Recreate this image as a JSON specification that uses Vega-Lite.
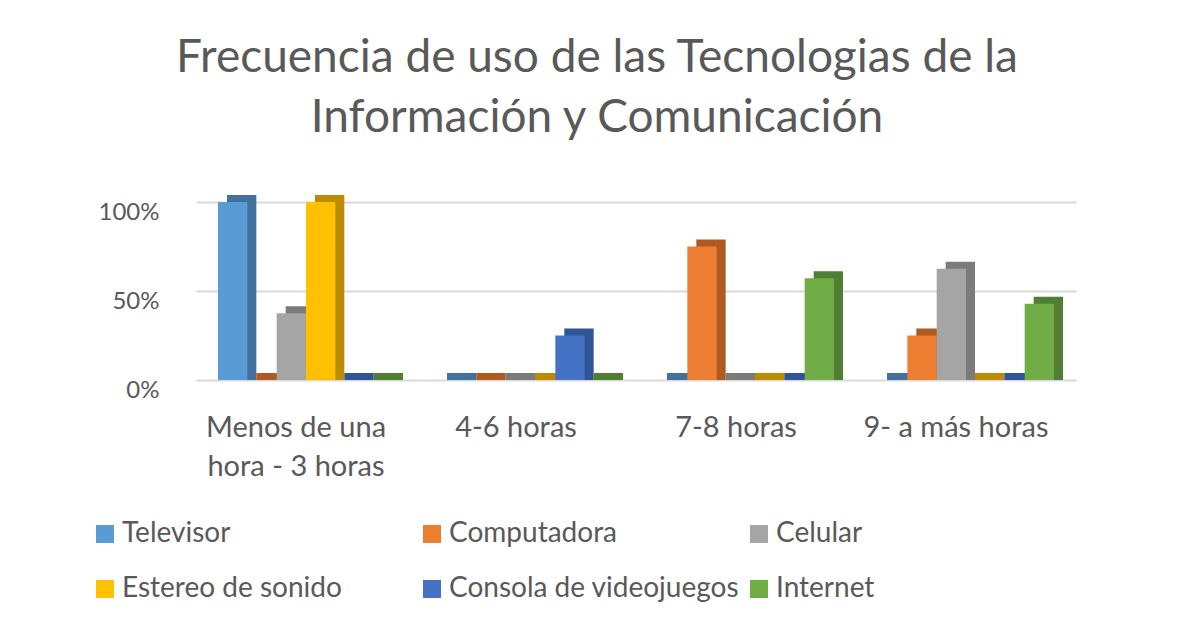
{
  "$schema": "https://vega.github.io/schema/vega-lite/v6.json",
  "width": 880,
  "height": 178,
  "autosize": {"type": "none"},
  "padding": {"left": 196, "top": 202, "right": 101, "bottom": 243},
  "background": "white",
  "title": {
    "text": ["Frecuencia de uso de las Tecnologias de la", "Información y Comunicación"],
    "font": "Lato",
    "fontSize": 46,
    "fontWeight": "normal",
    "color": "#595959",
    "lineHeight": 60,
    "anchor": "middle",
    "frame": "group",
    "dx": -39,
    "offset": 53
  },
  "data": {
    "values": [
      {"cat": "Menos de una hora - 3 horas", "serie": "Televisor", "valor": 1.0},
      {"cat": "Menos de una hora - 3 horas", "serie": "Computadora", "valor": 0.0},
      {"cat": "Menos de una hora - 3 horas", "serie": "Celular", "valor": 0.375},
      {"cat": "Menos de una hora - 3 horas", "serie": "Estereo de sonido", "valor": 1.0},
      {"cat": "Menos de una hora - 3 horas", "serie": "Consola de videojuegos", "valor": 0.0},
      {"cat": "Menos de una hora - 3 horas", "serie": "Internet", "valor": 0.0},
      {"cat": "4-6 horas", "serie": "Televisor", "valor": 0.0},
      {"cat": "4-6 horas", "serie": "Computadora", "valor": 0.0},
      {"cat": "4-6 horas", "serie": "Celular", "valor": 0.0},
      {"cat": "4-6 horas", "serie": "Estereo de sonido", "valor": 0.0},
      {"cat": "4-6 horas", "serie": "Consola de videojuegos", "valor": 0.25},
      {"cat": "4-6 horas", "serie": "Internet", "valor": 0.0},
      {"cat": "7-8 horas", "serie": "Televisor", "valor": 0.0},
      {"cat": "7-8 horas", "serie": "Computadora", "valor": 0.75},
      {"cat": "7-8 horas", "serie": "Celular", "valor": 0.0},
      {"cat": "7-8 horas", "serie": "Estereo de sonido", "valor": 0.0},
      {"cat": "7-8 horas", "serie": "Consola de videojuegos", "valor": 0.0},
      {"cat": "7-8 horas", "serie": "Internet", "valor": 0.571},
      {"cat": "9- a más horas", "serie": "Televisor", "valor": 0.0},
      {"cat": "9- a más horas", "serie": "Computadora", "valor": 0.25},
      {"cat": "9- a más horas", "serie": "Celular", "valor": 0.625},
      {"cat": "9- a más horas", "serie": "Estereo de sonido", "valor": 0.0},
      {"cat": "9- a más horas", "serie": "Consola de videojuegos", "valor": 0.0},
      {"cat": "9- a más horas", "serie": "Internet", "valor": 0.429}
    ]
  },
  "encoding": {
    "x": {
      "field": "cat",
      "type": "nominal",
      "sort": ["Menos de una hora - 3 horas", "4-6 horas", "7-8 horas", "9- a más horas"],
      "scale": {"paddingInner": 0.2, "paddingOuter": 0.1},
      "axis": {
        "title": null,
        "domain": false,
        "ticks": false,
        "labelAngle": 0,
        "labelFont": "Lato",
        "labelFontSize": 29,
        "labelColor": "#595959",
        "labelPadding": 33,
        "labelOffset": -10,
        "labelLimit": 400,
        "labelLineHeight": 39,
        "labelExpr": "datum.value == 'Menos de una hora - 3 horas' ? ['Menos de una', 'hora - 3 horas'] : datum.label"
      }
    },
    "y": {
      "field": "valor",
      "type": "quantitative",
      "scale": {"domain": [0, 1], "nice": false},
      "axis": {
        "title": null,
        "values": [0, 0.5, 1],
        "format": ".0%",
        "domain": false,
        "ticks": false,
        "labelFont": "Lato",
        "labelFontSize": 24,
        "labelColor": "#595959",
        "labelPadding": 37,
        "labelOffset": 10,
        "grid": true,
        "gridColor": "#d9d9d9",
        "gridWidth": 2
      }
    }
  },
  "layer": [
    {
      "mark": {"type": "bar", "yOffset": -7, "y2Offset": 0},
      "encoding": {
        "xOffset": {
          "field": "serie",
          "type": "nominal",
          "sort": ["Televisor", "Computadora", "Celular", "Estereo de sonido", "Consola de videojuegos", "Internet"],
          "scale": {"paddingInner": 0, "paddingOuter": 0, "range": [9, 185]}
        },
        "y2": {"datum": 0},
        "color": {
          "field": "serie",
          "type": "nominal",
          "scale": {
            "domain": ["Televisor", "Computadora", "Celular", "Estereo de sonido", "Consola de videojuegos", "Internet"],
            "range": ["#41719c", "#ae5a21", "#7b7b7b", "#bc8c00", "#2f5597", "#507e32"]
          },
          "legend": null
        }
      }
    },
    {
      "mark": {"type": "bar"},
      "encoding": {
        "xOffset": {
          "field": "serie",
          "type": "nominal",
          "sort": ["Televisor", "Computadora", "Celular", "Estereo de sonido", "Consola de videojuegos", "Internet"],
          "scale": {"paddingInner": 0, "paddingOuter": 0}
        },
        "color": {
          "field": "serie",
          "type": "nominal",
          "scale": {
            "domain": ["Televisor", "Computadora", "Celular", "Estereo de sonido", "Consola de videojuegos", "Internet"],
            "range": ["#5b9bd5", "#ed7d31", "#a5a5a5", "#ffc000", "#4472c4", "#70ad47"]
          },
          "legend": {
            "title": null,
            "orient": "none",
            "direction": "horizontal",
            "legendX": -105,
            "legendY": 318,
            "columns": 3,
            "gridAlign": "all",
            "columnPadding": 5,
            "rowPadding": 27,
            "symbolType": "square",
            "symbolSize": 324,
            "symbolStrokeWidth": 0,
            "labelFont": "Lato",
            "labelFontSize": 28,
            "labelColor": "#595959",
            "labelOffset": 3,
            "labelLimit": 500
          }
        }
      }
    }
  ],
  "resolve": {"scale": {"color": "independent", "xOffset": "independent"}},
  "config": {"view": {"stroke": null}}
}
